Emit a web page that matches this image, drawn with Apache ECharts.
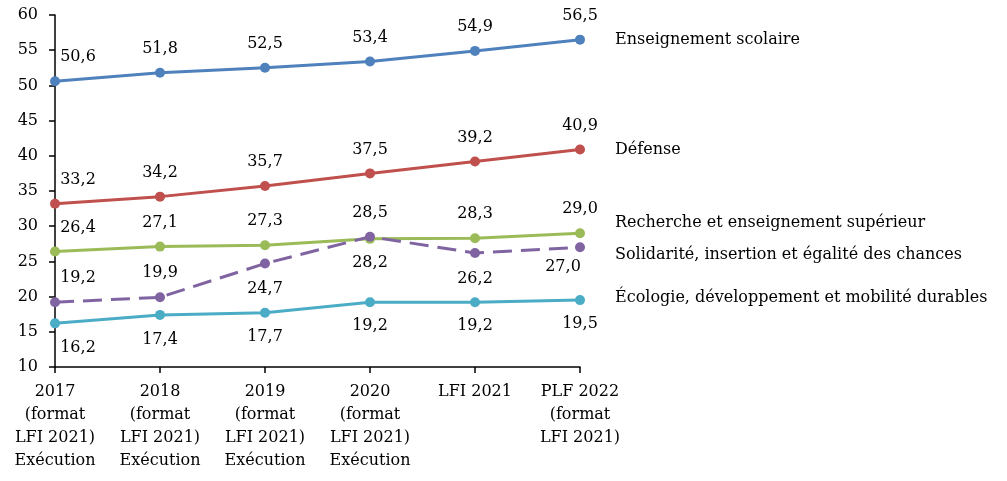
<!DOCTYPE html>
<html>
<head>
<meta charset="utf-8">
<script src="https://cdn.jsdelivr.net/npm/echarts@6/dist/echarts.min.js"></script>
<style>html,body{margin:0;padding:0;background:#fff}#c{width:1007px;height:481px}</style>
</head>
<body>
<div id="c"></div>
<script>
const categories = [
  "2017\n(format\nLFI 2021)\nExécution",
  "2018\n(format\nLFI 2021)\nExécution",
  "2019\n(format\nLFI 2021)\nExécution",
  "2020\n(format\nLFI 2021)\nExécution",
  "LFI 2021",
  "PLF 2022\n(format\nLFI 2021)"
];
const yTicks = [10, 15, 20, 25, 30, 35, 40, 45, 50, 55, 60];
const seriesNames = [
  "Enseignement scolaire",
  "Défense",
  "Recherche et enseignement supérieur",
  "Solidarité, insertion et égalité des chances",
  "Écologie, développement et mobilité durables"
];
const enseignement = [50.6, 51.8, 52.5, 53.4, 54.9, 56.5];
const defense = [33.2, 34.2, 35.7, 37.5, 39.2, 40.9];
const recherche = [26.4, 27.1, 27.3, 28.2, 28.3, 29.0];
const solidarite = [19.2, 19.9, 24.7, 28.5, 26.2, 27.0];
const ecologie = [16.2, 17.4, 17.7, 19.2, 19.2, 19.5];

// ---- styling ----
const FONT = 'DejaVu Serif';
const FS = 16;
const colors = ['#4F81BD', '#C0504D', '#9BBB59', '#8064A2', '#4BACC6'];
const U = -24, D = 24;
const labelOffsets = [
  [[23, U], [0, U], [0, U], [0, U], [0, U], [0, U]],
  [[23, U], [0, U], [0, U], [0, U], [0, U], [0, U]],
  [[23, U], [0, U], [0, U], [0, D], [0, U], [0, U]],
  [[23, U], [0, U], [0, 25], [0, U], [0, 26], [-17, 20]],
  [[23, D], [0, 25], [0, D], [0, D], [0, D], [0, D]]
];
const endOffsets = [[0, 0], [0, 0], [0, -10], [0, 8], [0, -2]];
const allData = [enseignement, defense, recherche, solidarite, ecologie];

const series = allData.map((vals, si) => ({
  name: seriesNames[si],
  type: 'line',
  data: vals.map((v, i) => ({
    value: v,
    label: { offset: labelOffsets[si][i] }
  })),
  symbol: 'circle',
  symbolSize: 10,
  color: colors[si],
  lineStyle: { width: 3, color: colors[si], type: si === 3 ? [19, 9] : 'solid' },
  itemStyle: { color: colors[si] },
  label: {
    show: true,
    position: 'inside',
    fontFamily: FONT,
    fontSize: FS,
    color: '#000',
    formatter: p => p.value.toFixed(1).replace('.', ',')
  },
  endLabel: {
    show: true,
    formatter: seriesNames[si],
    fontFamily: FONT,
    fontSize: FS,
    color: '#000',
    distance: 35,
    offset: endOffsets[si]
  },
  animation: false,
  z: si === 3 ? 3 : 2
}));

const chart = echarts.init(document.getElementById('c'));
chart.setOption({
  animation: false,
  grid: { left: 55, right: 427, top: 15, bottom: 114, containLabel: false },
  xAxis: {
    type: 'category',
    data: categories,
    boundaryGap: false,
    axisLine: { lineStyle: { color: '#000', width: 1.5 } },
    axisTick: { show: true, length: 6, alignWithLabel: true, lineStyle: { color: '#000', width: 1.5 } },
    axisLabel: { fontFamily: FONT, fontSize: FS, color: '#000', lineHeight: 23, margin: 13, interval: 0 },
    splitLine: { show: false }
  },
  yAxis: {
    type: 'value',
    min: yTicks[0],
    max: yTicks[yTicks.length - 1],
    interval: 5,
    axisLine: { show: true, lineStyle: { color: '#000', width: 1.5 } },
    axisTick: { show: true, length: 6, lineStyle: { color: '#000', width: 1.5 } },
    axisLabel: { fontFamily: FONT, fontSize: FS, color: '#000', margin: 17 },
    splitLine: { show: false }
  },
  series: series
});
</script>
</body>
</html>
